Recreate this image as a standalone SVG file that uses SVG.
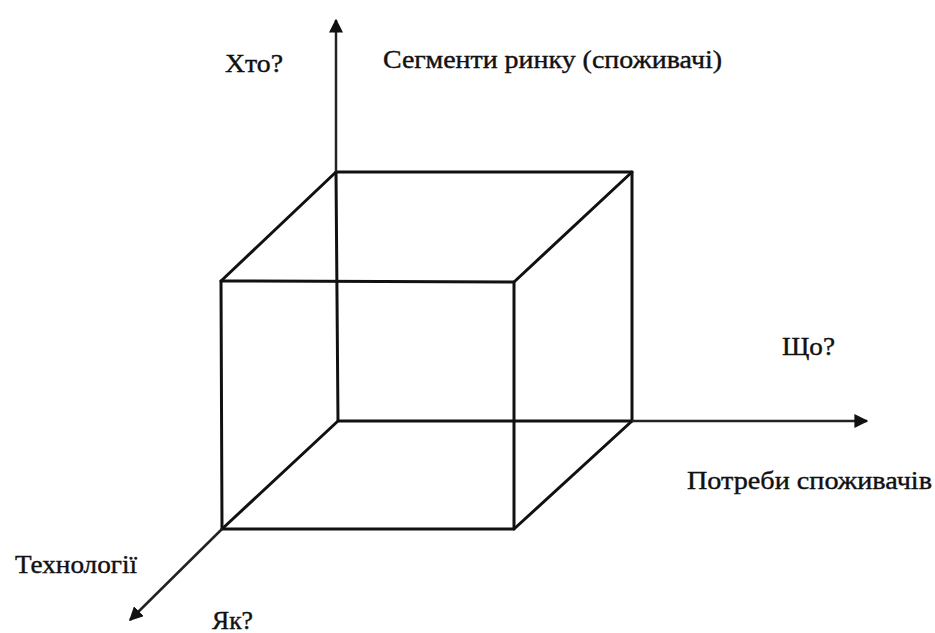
<svg xmlns="http://www.w3.org/2000/svg" width="935" height="633" viewBox="0 0 935 633">
<style>
.e{fill:none;stroke:#111;stroke-width:3;stroke-linecap:round;stroke-linejoin:round}
.a{fill:none;stroke:#222;stroke-width:2.5}
text{font-family:"Liberation Serif","Times New Roman",serif;font-size:25px;fill:#111;stroke:#111;stroke-width:0.4}
</style>
<defs>
<marker id="ah" viewBox="0 0 10 10" refX="9" refY="5" markerWidth="14" markerHeight="14" markerUnits="userSpaceOnUse" orient="auto">
<path d="M0,0 L10,5 L0,10 Z" fill="#111"/>
</marker>
</defs>
<g id="cube">
<path class="e" d="M336,172 L632,172 L632,421 L338,421 Z"/>
<path class="e" d="M221,281 L514,282 L514,529 L222,529 Z"/>
<path class="e" d="M221,281 L336,172 M514,282 L632,172 M514,529 L632,421 M222,529 L338,421"/>
</g>
<g id="connectors">
<line class="a" x1="336" y1="172" x2="336" y2="20" marker-end="url(#ah)"/>
<line class="a" x1="632" y1="421" x2="867" y2="421" marker-end="url(#ah)"/>
<line class="a" x1="222" y1="529" x2="130" y2="620" marker-end="url(#ah)"/>
</g>
<g id="labels">
<text x="225" y="72" textLength="58" lengthAdjust="spacingAndGlyphs">Хто?</text>
<text x="383" y="68" textLength="339" lengthAdjust="spacingAndGlyphs">Сегменти ринку (споживачі)</text>
<text x="782" y="355" textLength="53" lengthAdjust="spacingAndGlyphs">Що?</text>
<text x="687" y="489" textLength="245" lengthAdjust="spacingAndGlyphs">Потреби споживачів</text>
<text x="15" y="573" textLength="122" lengthAdjust="spacingAndGlyphs">Технології</text>
<text x="212" y="629" textLength="41" lengthAdjust="spacingAndGlyphs">Як?</text>
</g>
</svg>
